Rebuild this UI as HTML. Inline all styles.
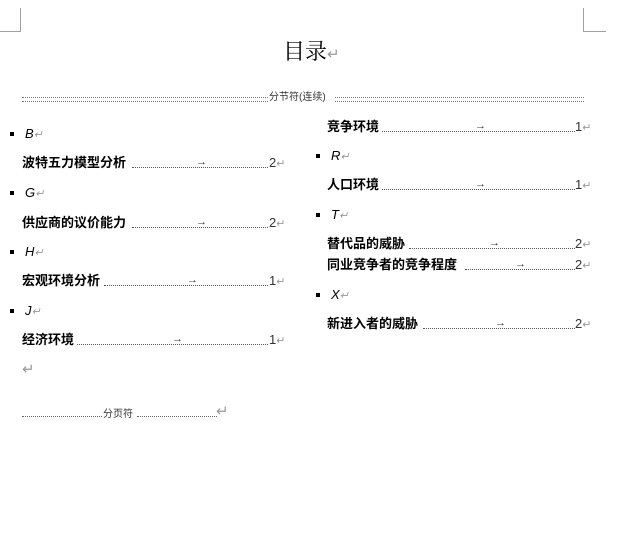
<!DOCTYPE html>
<html><head><meta charset="utf-8"><style>
body{margin:0;width:640px;height:553px;background:#fff;position:relative;overflow:hidden;font-family:"Liberation Sans","Noto Sans CJK SC",sans-serif;color:#000}
.a{position:absolute;white-space:nowrap;line-height:1}
.ln{position:absolute;background:#a0a0a0}
.e{position:absolute;height:14px;font-size:13px;font-weight:bold;line-height:14px}
.e .t{position:absolute;left:0;top:1px;white-space:nowrap}
.e .d{position:absolute;top:12px;border-bottom:1px dotted #555}
.e .ar{position:absolute;top:0;font-weight:normal;font-size:11px;color:#333}
.e .n{position:absolute;top:1px;font-weight:normal;font-size:13px;color:#333}
.g{color:#999;font-weight:normal;font-size:11px}
.b{position:absolute;font-size:13px;font-style:italic;line-height:14px}
.b::before{content:"";position:absolute;left:-15px;top:5px;width:4px;height:4px;background:#000}
.dd{position:absolute;height:3px;border-top:1px dotted #777;border-bottom:1px dotted #777}
</style></head><body>
<div class="ln" style="left:20px;top:8px;width:1px;height:23px"></div>
<div class="ln" style="left:0;top:31px;width:21px;height:1px"></div>
<div class="ln" style="left:583px;top:8px;width:1px;height:23px"></div>
<div class="ln" style="left:583px;top:31px;width:23px;height:1px"></div>

<div class="a" style="left:283px;top:41px;font-size:22px;font-family:'Liberation Serif','Noto Serif CJK SC',serif">目录<span style="color:#999;font-size:15px">↵</span></div>

<div class="dd" style="left:22px;top:97px;width:246px"></div>
<div class="a" style="left:269px;top:93px;font-size:10px;color:#333">分节符(连续)</div>
<div class="dd" style="left:335px;top:97px;width:249px"></div>

<div class="b" style="left:25px;top:127px">B<span class="g">↵</span></div>
<div class="e" style="left:22px;top:155px;width:280px"><span class="t">波特五力模型分析</span><span class="d" style="left:110px;width:136px"></span><span class="ar" style="left:174px">→</span><span class="n" style="left:247px">2<span class="g">↵</span></span></div>
<div class="b" style="left:25px;top:186px">G<span class="g">↵</span></div>
<div class="e" style="left:22px;top:215px;width:280px"><span class="t">供应商的议价能力</span><span class="d" style="left:110px;width:136px"></span><span class="ar" style="left:174px">→</span><span class="n" style="left:247px">2<span class="g">↵</span></span></div>
<div class="b" style="left:25px;top:245px">H<span class="g">↵</span></div>
<div class="e" style="left:22px;top:273px;width:280px"><span class="t">宏观环境分析</span><span class="d" style="left:82px;width:164px"></span><span class="ar" style="left:165px">→</span><span class="n" style="left:247px">1<span class="g">↵</span></span></div>
<div class="b" style="left:25px;top:304px">J<span class="g">↵</span></div>
<div class="e" style="left:22px;top:332px;width:280px"><span class="t">经济环境</span><span class="d" style="left:55px;width:191px"></span><span class="ar" style="left:150px">→</span><span class="n" style="left:247px">1<span class="g">↵</span></span></div>
<div class="a" style="left:22px;top:362px;font-size:15px;color:#999">↵</div>
<div style="position:absolute;left:22px;top:416px;width:80px;border-top:1px dotted #666"></div>
<div class="a" style="left:103px;top:410px;font-size:10px;color:#333">分页符</div>
<div style="position:absolute;left:137px;top:416px;width:80px;border-top:1px dotted #666"></div>
<div class="a" style="left:216px;top:404px;font-size:15px;color:#999">↵</div>

<div class="e" style="left:327px;top:119px;width:280px"><span class="t">竞争环境</span><span class="d" style="left:55px;width:193px"></span><span class="ar" style="left:148px">→</span><span class="n" style="left:248px">1<span class="g">↵</span></span></div>
<div class="b" style="left:331px;top:149px">R<span class="g">↵</span></div>
<div class="e" style="left:327px;top:177px;width:280px"><span class="t">人口环境</span><span class="d" style="left:55px;width:193px"></span><span class="ar" style="left:148px">→</span><span class="n" style="left:248px">1<span class="g">↵</span></span></div>
<div class="b" style="left:331px;top:208px">T<span class="g">↵</span></div>
<div class="e" style="left:327px;top:236px;width:280px"><span class="t">替代品的威胁</span><span class="d" style="left:82px;width:166px"></span><span class="ar" style="left:162px">→</span><span class="n" style="left:248px">2<span class="g">↵</span></span></div>
<div class="e" style="left:327px;top:257px;width:280px"><span class="t">同业竞争者的竞争程度</span><span class="d" style="left:138px;width:110px"></span><span class="ar" style="left:188px">→</span><span class="n" style="left:248px">2<span class="g">↵</span></span></div>
<div class="b" style="left:331px;top:288px">X<span class="g">↵</span></div>
<div class="e" style="left:327px;top:316px;width:280px"><span class="t">新进入者的威胁</span><span class="d" style="left:96px;width:152px"></span><span class="ar" style="left:168px">→</span><span class="n" style="left:248px">2<span class="g">↵</span></span></div>
</body></html>
